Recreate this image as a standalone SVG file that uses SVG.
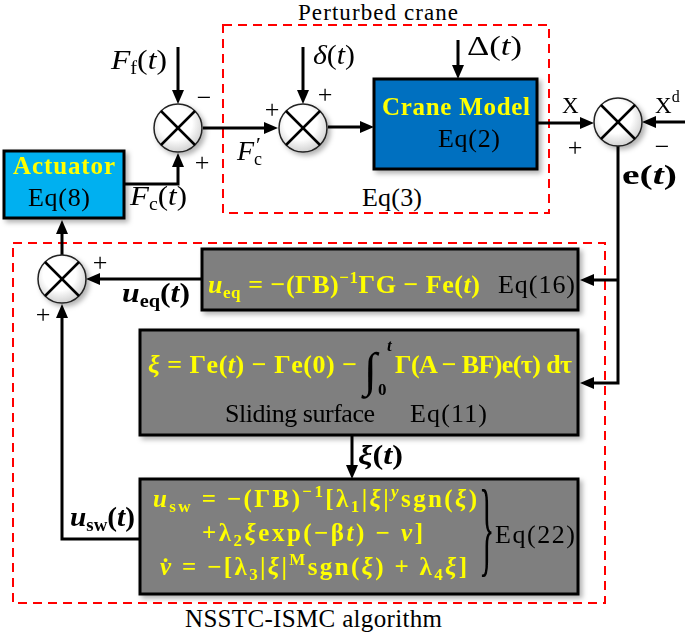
<svg xmlns="http://www.w3.org/2000/svg" width="685" height="632" viewBox="0 0 685 632">
<defs>
<style>
text{font-family:"Liberation Serif","DejaVu Serif",serif;fill:#000;}
.lbl{font-size:26px;}
.ml{font-size:28px;}
.eq{font-size:26px;font-weight:bold;fill:#FFFF00;}
.eq2{font-size:25px;font-weight:bold;fill:#FFFF00;}
.hd{font-size:25px;font-weight:bold;fill:#FFFF00;text-anchor:middle;}
.i{font-style:italic;}
.b{font-weight:bold;}
.box{stroke:#000;stroke-width:3;}
.gray{fill:#7F7F7F;}
.dash{fill:none;stroke:#FF0000;stroke-width:2;stroke-dasharray:9 6;}
.conn{fill:none;stroke:#000;stroke-width:3;marker-end:url(#ah);}
.sum circle{fill:url(#cg);stroke:#222;stroke-width:1.5;}
.sum line{stroke:#000;stroke-width:2.5;}
.sign{font-size:26px;text-anchor:middle;}
</style>
<radialGradient id="cg" cx="0.45" cy="0.4" r="0.62"><stop offset="0.55" stop-color="#ffffff"/><stop offset="1" stop-color="#cfcfcf"/></radialGradient>
<filter id="sh" x="-20%" y="-20%" width="150%" height="150%"><feDropShadow dx="3" dy="3" stdDeviation="2.5" flood-color="#000" flood-opacity="0.3"/></filter>
<marker id="ah" markerUnits="userSpaceOnUse" markerWidth="14" markerHeight="12" refX="2" refY="6" orient="auto"><path d="M0,0 L14,6 L0,12 z" fill="#000"/></marker>
</defs>
<rect width="685" height="632" fill="#fff"/>

<g id="perturbed-crane">
<rect class="dash" x="223" y="25" width="326" height="188"/>
<text x="378" y="20" font-size="23" text-anchor="middle" textLength="160">Perturbed crane</text>
<text class="lbl" x="362" y="206" textLength="60">Eq(3)</text>
</g>

<g id="nsstc-ismc">
<rect class="dash" x="13" y="243" width="592" height="360"/>
<text x="185" y="627" font-size="25" textLength="257">NSSTC-ISMC algorithm</text>
</g>

<g id="connectors">
<path class="conn" d="M178,47 V92"/>
<path class="conn" d="M303,47 V92"/>
<path class="conn" d="M458,40 V67"/>
<path class="conn" d="M203,128 H266"/>
<path class="conn" d="M328,127 H362"/>
<path class="conn" d="M537,123 H582"/>
<path class="conn" d="M685,122 H654"/>
<path class="conn" d="M124,184 H178 V165"/>
<path class="conn" d="M618,146 V383 H592"/>
<path class="conn" d="M618,280 H592"/>
<path class="conn" d="M202,279 H98"/>
<path class="conn" d="M62,255 V232"/>
<path class="conn" d="M140,539 H62 V316"/>
<path class="conn" d="M352,435 V467"/>
</g>

<g id="actuator" filter="url(#sh)">
<rect class="box" x="4" y="151" width="120" height="67" fill="#00B0F0"/>
<text class="hd" x="64" y="174" textLength="102">Actuator</text>
<text class="lbl" x="59" y="206" text-anchor="middle" textLength="62">Eq(8)</text>
</g>

<g id="crane-model" filter="url(#sh)">
<rect class="box" x="374" y="79" width="163" height="90" fill="#0070C0"/>
<text class="hd" x="456" y="115" textLength="148">Crane Model</text>
<text class="lbl" x="469" y="147" text-anchor="middle" textLength="62">Eq(2)</text>
</g>

<g id="sum1" class="sum" transform="translate(178,128)" filter="url(#sh)">
<circle r="24"/><line x1="-17" y1="-17" x2="17" y2="17"/><line x1="-17" y1="17" x2="17" y2="-17"/>
</g>
<g id="sum2" class="sum" transform="translate(303,128)" filter="url(#sh)">
<circle r="24"/><line x1="-17" y1="-17" x2="17" y2="17"/><line x1="-17" y1="17" x2="17" y2="-17"/>
</g>
<g id="sum3" class="sum" transform="translate(618,122)" filter="url(#sh)">
<circle r="24"/><line x1="-17" y1="-17" x2="17" y2="17"/><line x1="-17" y1="17" x2="17" y2="-17"/>
</g>
<g id="sum4" class="sum" transform="translate(62,279)" filter="url(#sh)">
<circle r="24"/><line x1="-17" y1="-17" x2="17" y2="17"/><line x1="-17" y1="17" x2="17" y2="-17"/>
</g>

<g id="eq16" filter="url(#sh)">
<rect class="box gray" x="202" y="249" width="376" height="61"/>
<text class="eq" x="208" y="293" textLength="272"><tspan class="i">u</tspan><tspan font-size="17" dy="5">eq</tspan><tspan dy="-5"> = −(ΓB)</tspan><tspan font-size="17" dy="-10">−1</tspan><tspan dy="10">ΓG − Fe(</tspan><tspan class="i">t</tspan>)</text>
<text class="lbl" x="498" y="293" textLength="77">Eq(16)</text>
</g>

<g id="eq11" filter="url(#sh)">
<rect class="box gray" x="140" y="330" width="438" height="105"/>
<text class="eq" x="148" y="373" textLength="209"><tspan class="i">ξ</tspan> = Γe(<tspan class="i">t</tspan>) − Γe(0) −</text>
<text x="364" y="386" font-size="48" fill="#FFFF00" font-style="italic">∫</text>
<text x="387" y="351" font-size="17" font-weight="bold" font-style="italic" fill="#FFFF00">t</text>
<text x="378" y="395" font-size="17" font-weight="bold" fill="#FFFF00">0</text>
<text class="eq" x="395" y="373" textLength="177">Γ(A − BF)e(τ) dτ</text>
<text class="lbl" x="225" y="422" textLength="150">Sliding surface</text>
<text class="lbl" x="410" y="422" textLength="77">Eq(11)</text>
</g>

<g id="eq22" filter="url(#sh)">
<rect class="box gray" x="140" y="479" width="438" height="115"/>
<text class="eq2" x="153" y="507" textLength="324"><tspan class="i">u</tspan><tspan font-size="17" dy="5">sw</tspan><tspan dy="-5"> = −(ΓB)</tspan><tspan font-size="17" dy="-10">−1</tspan><tspan dy="10">[λ</tspan><tspan font-size="17" dy="5">1</tspan><tspan dy="-5">|</tspan><tspan class="i">ξ</tspan>|<tspan font-size="17" dy="-10" class="i">y</tspan><tspan dy="10">sgn(</tspan><tspan class="i">ξ</tspan>)</text>
<text class="eq2" x="202" y="541" textLength="221">+λ<tspan font-size="17" dy="5">2</tspan><tspan dy="-5" class="i">ξ</tspan>exp(−β<tspan class="i">t</tspan>) − <tspan class="i">v</tspan>]</text>
<text class="eq2" x="160" y="575" textLength="307"><tspan class="i">v̇</tspan> = −[λ<tspan font-size="17" dy="5">3</tspan><tspan dy="-5">|</tspan><tspan class="i">ξ</tspan>|<tspan font-size="17" dy="-10">M</tspan><tspan dy="10">sgn(</tspan><tspan class="i">ξ</tspan>) + λ<tspan font-size="17" dy="5">4</tspan><tspan dy="-5" class="i">ξ</tspan>]</text>
<text transform="translate(479,563) scale(1,3.3)" font-size="32" fill="#FFFF00">}</text>
<text class="lbl" x="495" y="543" textLength="80">Eq(22)</text>
</g>

<g id="labels">
<text class="ml" x="111" y="69" textLength="56" lengthAdjust="spacingAndGlyphs"><tspan class="i">F</tspan><tspan font-size="18" dy="5">f</tspan><tspan dy="-5">(</tspan><tspan class="i">t</tspan>)</text>
<text class="ml" x="313" y="64" textLength="42" lengthAdjust="spacingAndGlyphs"><tspan class="i">δ</tspan>(<tspan class="i">t</tspan>)</text>
<text class="ml" x="467" y="55" textLength="55" lengthAdjust="spacingAndGlyphs">Δ(<tspan class="i">t</tspan>)</text>
<text class="ml" x="237" y="160"><tspan class="i">F</tspan><tspan font-size="18" dy="5">c</tspan><tspan font-size="22" dx="-6" dy="-13">′</tspan></text>
<text class="ml" x="130" y="205" textLength="57" lengthAdjust="spacingAndGlyphs"><tspan class="i">F</tspan><tspan font-size="18" dy="5">c</tspan><tspan dy="-5">(</tspan><tspan class="i">t</tspan>)</text>
<text x="562" y="113" font-size="23">X</text>
<text x="655" y="113" font-size="23">X<tspan font-size="16" dy="-11">d</tspan></text>
<text class="ml b" x="622" y="184" textLength="55" lengthAdjust="spacingAndGlyphs">e(<tspan class="i">t</tspan>)</text>
<text class="ml b" x="122" y="302" textLength="68" lengthAdjust="spacingAndGlyphs"><tspan class="i">u</tspan><tspan font-size="18" dy="5">eq</tspan><tspan dy="-5">(</tspan><tspan class="i">t</tspan>)</text>
<text class="ml b" x="358" y="464" textLength="45" lengthAdjust="spacingAndGlyphs"><tspan class="i">ξ</tspan>(<tspan class="i">t</tspan>)</text>
<text class="ml b" x="70" y="526" textLength="65" lengthAdjust="spacingAndGlyphs"><tspan class="i">u</tspan><tspan font-size="18" dy="5">sw</tspan><tspan dy="-5">(</tspan><tspan class="i">t</tspan>)</text>
<text class="sign" x="204" y="106">−</text>
<text class="sign" x="202" y="171">+</text>
<text class="sign" x="272" y="118">+</text>
<text class="sign" x="325" y="103">+</text>
<text class="sign" x="575" y="156">+</text>
<text class="sign" x="662" y="155">−</text>
<text class="sign" x="100" y="271">+</text>
<text class="sign" x="43" y="323">+</text>
</g>
</svg>
